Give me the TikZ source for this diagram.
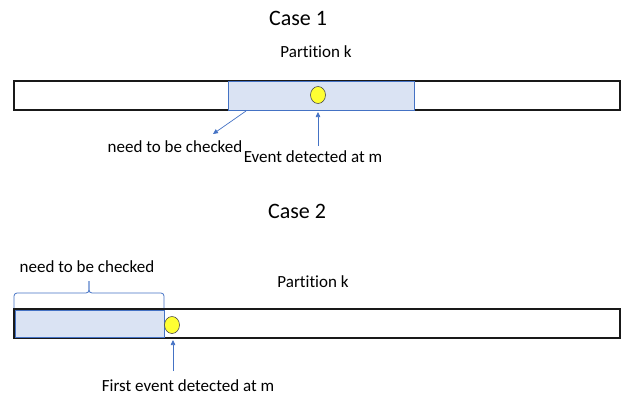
\documentclass[tikz,border=0pt]{standalone}
\usepackage{fontspec}
\setmainfont[Ligatures=NoCommon]{Carlito}
\usetikzlibrary{arrows.meta,shapes.geometric}
\definecolor{officeblue}{HTML}{4472C4}
\definecolor{paleblue}{HTML}{DAE3F3}
\definecolor{dotyellow}{HTML}{FFFF33}
\tikzset{
  bar/.style={draw=black!90, line width=1.4pt, fill=white},
  checked/.style={draw=officeblue, line width=0.6pt, fill=paleblue},
  event/.style={draw=black!70, line width=0.6pt, fill=dotyellow, ellipse,
    minimum width=15pt, minimum height=17pt, inner sep=0pt},
  pointer/.style={draw=officeblue, line width=0.7pt, -{Triangle[width=4.5pt,length=5pt]}},
  brace/.style={draw=officeblue, line width=0.8pt, rounded corners=3pt},
  heading/.style={font=\fontsize{22}{25}\selectfont, inner sep=0pt},
  label/.style={font=\fontsize{17}{20}\selectfont, inner sep=0pt}
}
\begin{document}
\begin{tikzpicture}[x=1pt, y=-1pt]
\useasboundingbox (0,0) rectangle (624,396);

% ---- Case 1: event inside the partition ----
\node[heading] (case1) at (298,18) {Case 1};
\node[label] (part1) at (316,52) {Partition k};
\draw[bar] (14,81) rectangle (620,110);
\draw[checked] (228,81) rectangle (414,110);
\node[event] (dot1) at (318,95) {};
\node[label] (need1) at (175,147) {need to be checked};
\node[label] (ev1) at (313,157) {Event detected at m};
\coordinate (from1) at (246,111);
\coordinate (to1) at (213,134);
\coordinate (tip1) at (318,112);
\coordinate (tail1) at (318,146);
\draw[pointer] (from1) -- (to1);
\draw[pointer] (tail1) -- (tip1);

% ---- Case 2: first event right after the checked part ----
\node[heading] (case2) at (297,211) {Case 2};
\node[label] (need2) at (87,267) {need to be checked};
\node[label] (part2) at (313,282) {Partition k};
\draw[bar] (14,309) rectangle (620,338);
\draw[checked] (15,310) rectangle (164,337);
\draw[black!90, line width=1.4pt] (14,309) -- (14,338);
\node[event] (dot2) at (172,325) {};
\node[label] (ev2) at (188,386) {First event detected at m};
\coordinate (tip2) at (173,340);
\coordinate (tail2) at (173,371);
\draw[pointer] (tail2) -- (tip2);

% curly bracket over the checked part
\coordinate (bl) at (14,308);
\coordinate (br) at (164,308);
\coordinate (bt) at (89,281);
\draw[brace] (bl) -- (14,293) -- (89,293) -- (bt);
\draw[brace] (bt) -- (89,293) -- (164,293) -- (br);
\end{tikzpicture}
\end{document}
